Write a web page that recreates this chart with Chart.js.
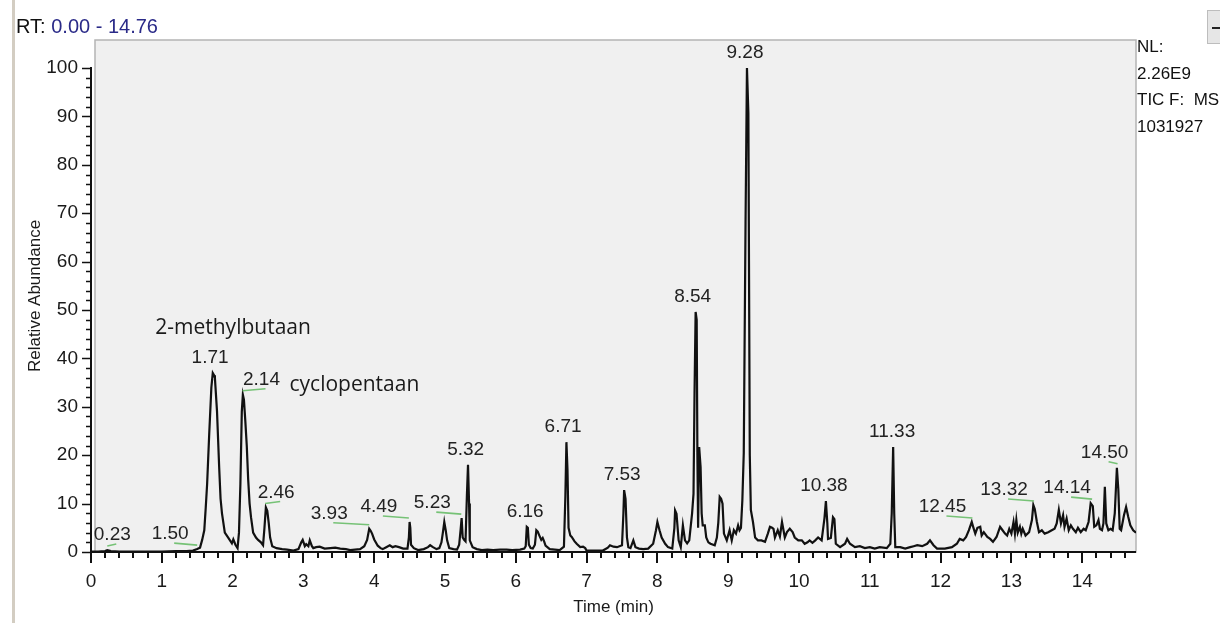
<!DOCTYPE html>
<html>
<head>
<meta charset="utf-8">
<title>TIC chromatogram</title>
<script src="https://cdn.jsdelivr.net/npm/chart.js@4.4.1/dist/chart.umd.min.js"></script>
<style>
  html, body { margin: 0; padding: 0; background: #fff; }
  canvas { display: block; }
</style>
</head>
<body>
<canvas id="tic" width="1220" height="623"></canvas>
<script>
// retention time (min) and relative abundance (%)
const retentionTimes = [
  0.00, 0.10, 0.20, 0.23, 0.28, 0.40, 0.60, 0.80, 1.00, 1.20, 1.35, 1.44, 1.50, 1.54, 1.57, 1.60,
  1.62, 1.64, 1.67, 1.70, 1.72, 1.74, 1.75, 1.78, 1.81, 1.83, 1.85, 1.89, 1.94, 1.99, 2.01, 2.04,
  2.07, 2.09, 2.11, 2.13, 2.145, 2.16, 2.18, 2.20, 2.22, 2.24, 2.26, 2.29, 2.33, 2.36, 2.40, 2.43,
  2.45, 2.47, 2.49, 2.51, 2.53, 2.56, 2.62, 2.70, 2.77, 2.86, 2.93, 2.97, 2.99, 3.02, 3.04, 3.07,
  3.09, 3.12, 3.14, 3.18, 3.23, 3.30, 3.38, 3.45, 3.52, 3.60, 3.66, 3.73, 3.80, 3.86, 3.90, 3.93,
  3.95, 3.97, 4.00, 4.05, 4.09, 4.12, 4.17, 4.22, 4.26, 4.30, 4.35, 4.41, 4.47, 4.49, 4.50, 4.51,
  4.52, 4.56, 4.62, 4.70, 4.76, 4.79, 4.83, 4.88, 4.92, 4.95, 4.97, 4.99, 5.01, 5.03, 5.06, 5.12,
  5.17, 5.20, 5.22, 5.235, 5.25, 5.27, 5.29, 5.31, 5.325, 5.34, 5.35, 5.39, 5.45, 5.52, 5.60, 5.68,
  5.78, 5.87, 5.95, 6.06, 6.12, 6.14, 6.155, 6.17, 6.185, 6.21, 6.24, 6.27, 6.29, 6.31, 6.33, 6.36,
  6.38, 6.40, 6.42, 6.48, 6.55, 6.62, 6.68, 6.70, 6.715, 6.73, 6.745, 6.77, 6.79, 6.83, 6.86, 6.91,
  6.95, 6.98, 7.00, 7.10, 7.23, 7.30, 7.33, 7.38, 7.43, 7.50, 7.52, 7.53, 7.55, 7.57, 7.59, 7.62,
  7.66, 7.69, 7.74, 7.80, 7.87, 7.94, 7.98, 8.00, 8.03, 8.06, 8.11, 8.15, 8.21, 8.24, 8.25, 8.27,
  8.30, 8.33, 8.36, 8.39, 8.42, 8.45, 8.49, 8.51, 8.525, 8.54, 8.555, 8.565, 8.575, 8.59, 8.61, 8.625,
  8.64, 8.67, 8.69, 8.72, 8.75, 8.81, 8.84, 8.86, 8.88, 8.90, 8.92, 8.94, 8.98, 9.02, 9.05, 9.08,
  9.11, 9.14, 9.16, 9.18, 9.20, 9.22, 9.245, 9.265, 9.285, 9.305, 9.32, 9.35, 9.38, 9.42, 9.47, 9.52,
  9.56, 9.59, 9.62, 9.64, 9.66, 9.70, 9.73, 9.76, 9.80, 9.83, 9.87, 9.91, 9.94, 9.99, 10.04, 10.08,
  10.12, 10.15, 10.19, 10.23, 10.27, 10.32, 10.36, 10.38, 10.40, 10.41, 10.45, 10.48, 10.50, 10.52, 10.58, 10.65,
  10.68, 10.72, 10.79, 10.86, 10.93, 11.00, 11.07, 11.14, 11.24, 11.29, 11.31, 11.33, 11.345, 11.36, 11.43, 11.50,
  11.57, 11.62, 11.67, 11.74, 11.81, 11.85, 11.90, 11.95, 12.06, 12.16, 12.23, 12.27, 12.32, 12.36, 12.40, 12.44,
  12.46, 12.49, 12.52, 12.56, 12.58, 12.61, 12.66, 12.70, 12.74, 12.79, 12.84, 12.87, 12.91, 12.94, 12.97, 13.00,
  13.03, 13.05, 13.07, 13.09, 13.12, 13.14, 13.16, 13.20, 13.25, 13.29, 13.31, 13.33, 13.36, 13.39, 13.43, 13.47,
  13.52, 13.57, 13.61, 13.64, 13.67, 13.70, 13.73, 13.75, 13.78, 13.81, 13.84, 13.87, 13.91, 13.94, 13.98, 14.02,
  14.05, 14.09, 14.12, 14.15, 14.17, 14.20, 14.23, 14.25, 14.28, 14.30, 14.32, 14.34, 14.37, 14.40, 14.43, 14.46,
  14.49, 14.51, 14.53, 14.55, 14.59, 14.62, 14.65, 14.68, 14.72, 14.76
];
const relAbundance = [
  0.1, 0.1, 0.2, 0.4, 0.2, 0.1, 0.1, 0.1, 0.1, 0.2, 0.2, 0.3, 0.6, 0.9, 2.5, 4.5,
  9, 14, 24.5, 34, 37, 36.5, 36, 29, 17.6, 11, 8, 4, 2.9, 1.8, 2.6, 1.5,
  0.8, 4, 14, 29, 32.5, 31.5, 27, 22, 15, 10, 7.2, 4, 3, 2.5, 2, 1.4,
  5, 9.2, 8.5, 6, 3, 1.2, 0.8, 0.6, 0.5, 0.3, 0.6, 2, 2.5, 1.2, 1.6, 1.2,
  2.4, 1.2, 0.8, 1, 1.1, 0.7, 0.8, 0.9, 0.7, 0.6, 0.4, 0.5, 0.6, 1.2, 2.5, 4.8,
  4.4, 3.8, 2.6, 1.3, 0.8, 0.6, 1.0, 1.4, 1.0, 1.2, 1.0, 0.7, 0.7, 3, 6.2, 5,
  1.5, 0.8, 0.4, 0.6, 1.0, 1.4, 1.0, 0.6, 0.8, 2, 4, 6.2, 4.5, 2.4, 0.8, 0.6,
  0.5, 1.5, 4.5, 7, 3, 2.5, 2.2, 12, 18, 10, 2.4, 1, 0.6, 0.4, 0.5, 0.4,
  0.5, 0.5, 0.4, 0.5, 0.7, 1.2, 5.2, 5, 1.5, 0.8, 0.7, 1.5, 4.5, 4.2, 3.5, 2.5,
  2.9, 2.2, 1.3, 0.6, 0.5, 0.4, 1.1, 11.4, 22.7, 17, 5, 3.4, 3.1, 2.2, 1.7, 1,
  1.1, 0.8, 0.3, 0.3, 0.3, 0.9, 1.4, 1.1, 1.0, 1.4, 8, 12.8, 11, 3, 1.0, 0.8,
  2.4, 1.0, 0.7, 0.6, 0.7, 1.7, 4.5, 6.2, 4.5, 3, 1.7, 1, 0.7, 5, 8.6, 7.9,
  2.4, 1, 5.5, 2.4, 1.8, 2.4, 8, 12, 33.5, 49.6, 48, 20, 5, 21.7, 17.6, 8,
  5.5, 5.5, 3, 2, 1.7, 1.4, 3, 6, 11.4, 11, 10, 3.8, 2.4, 4.5, 2.4, 4.5,
  3.8, 5.5, 4.5, 5, 10.7, 20.5, 68, 100, 90.7, 20, 8.7, 6.2, 3, 2.4, 2.4, 2.1,
  3.8, 5.2, 5, 4.8, 3, 4.5, 3.2, 6.2, 3, 4.1, 4.8, 4.1, 3, 2.4, 2.4, 1.7,
  2.0, 2.4, 1.9, 2.4, 3, 2.4, 7, 10.5, 6, 2.7, 2.9, 7.2, 6.8, 1.7, 1, 1.7,
  2.7, 1.7, 1, 1.2, 0.8, 1, 0.7, 1, 0.8, 1.7, 8, 21.7, 8, 1, 1, 0.7,
  1, 1.2, 1.4, 1.2, 1.7, 2.4, 1.4, 0.7, 0.7, 1, 1.7, 2.7, 2.4, 3.1, 4.5, 6.2,
  5.2, 3.8, 5, 5.2, 3.4, 4.1, 3.1, 2.7, 2.1, 3.1, 5.2, 4.6, 3.8, 3.4, 4.8, 3.8,
  6.2, 3.8, 6.6, 4, 5.2, 3.8, 4.8, 3.4, 4.1, 6.6, 9.7, 8.9, 6.2, 4.1, 4.5, 3.8,
  4.1, 4.5, 4.8, 5.9, 8.7, 5.9, 7.6, 5.2, 6.9, 4.5, 5.5, 4.8, 4.1, 5, 4.1, 4.8,
  4.5, 6.2, 10.1, 9.5, 5.2, 5.5, 6.6, 4.8, 4.5, 5.9, 13.5, 5.9, 4.5, 4.8, 4.5, 8,
  17.4, 13, 4.8, 4.5, 7.6, 9.3, 7.3, 5.5, 4.5, 4
];

// labelled peaks (retention time shown above each apex)
const peakLabels = ['0.23', '1.50', '1.71', '2.14', '2.46', '3.93', '4.49', '5.23', '5.32', '6.16',
  '6.71', '7.53', '8.54', '9.28', '10.38', '11.33', '12.45', '13.32', '14.14', '14.50'];

// compound names written next to two peaks
const compoundNames = ['2-methylbutaan', 'cyclopentaan'];
const compoundPeaks = ['1.71', '2.14'];

const timeTicks = [0, 1, 2, 3, 4, 5, 6, 7, 8, 9, 10, 11, 12, 13, 14];
const abundanceTicks = [0, 10, 20, 30, 40, 50, 60, 70, 80, 90, 100];
const rtRange = ['RT:', '0.00 - 14.76'];
const headerRight = ['NL:', '2.26E9', 'TIC F:  MS + c EI Full ms', '1031927'];

// where each label sits relative to its apex (px), and whether it has the green marker
const labelLayout = {
  '0.23': { dx: 5, green: true },
  '1.50': { dx: -27, green: true },
  '1.71': { dx: -2 },
  '2.14': { dx: 19, green: true },
  '2.46': { dx: 11, green: true },
  '3.93': { dx: -40, green: true },
  '4.49': { dx: -30, green: true },
  '5.23': { dx: -29, green: true },
  '5.32': { dx: -2 },
  '6.16': { dx: -2 },
  '6.71': { dx: -3 },
  '7.53': { dx: -2 },
  '8.54': { dx: -3 },
  '9.28': { dx: -3 },
  '10.38': { dx: -2 },
  '11.33': { dx: -1 },
  '12.45': { dx: -30, green: true },
  '13.32': { dx: -30, green: true },
  '14.14': { dx: -25, green: true },
  '14.50': { dx: -13, green: true }
};
const compoundLayout = {
  '2-methylbutaan': { dx: 21, dy: -45, align: 'center' },
  'cyclopentaan': { dx: 47, dy: -10, align: 'left' }
};

const FONT = '"Liberation Sans", Arial, sans-serif';

const points = retentionTimes.map((t, i) => ({ x: t, y: relAbundance[i] }));

// highest point of the trace near a labelled retention time
function apexNear(t) {
  let best = 0;
  retentionTimes.forEach((rt, i) => {
    if (Math.abs(rt - t) <= 0.03 && relAbundance[i] > best) best = relAbundance[i];
  });
  return best;
}

const xcaliburPlugin = {
  id: 'xcalibur',
  beforeDraw(chart) {
    const ctx = chart.ctx;
    const area = chart.chartArea;
    ctx.save();
    ctx.fillStyle = '#ffffff';
    ctx.fillRect(0, 0, chart.width, chart.height);
    // window edge on the left
    ctx.fillStyle = '#d3cdc2';
    ctx.fillRect(12, 0, 3, chart.height);
    // plot panel
    ctx.fillStyle = '#f0f0f0';
    ctx.fillRect(area.left + 4, area.top, area.right - area.left - 4, area.bottom - area.top);
    ctx.strokeStyle = '#b4b4b4';
    ctx.lineWidth = 1.5;
    ctx.strokeRect(area.left + 4, area.top, area.right - area.left - 4, area.bottom - area.top);
    ctx.restore();
  },
  afterDraw(chart) {
    const ctx = chart.ctx;
    const area = chart.chartArea;
    const xs = chart.scales.x;
    const ys = chart.scales.y;
    ctx.save();

    // axes
    ctx.strokeStyle = '#111';
    ctx.lineWidth = 2;
    ctx.beginPath();
    ctx.moveTo(area.left, ys.getPixelForValue(100) - 1);
    ctx.lineTo(area.left, area.bottom);
    ctx.lineTo(area.right, area.bottom);
    ctx.stroke();

    // y ticks every 2 %, long ones every 10 %
    ctx.lineWidth = 1.5;
    ctx.beginPath();
    for (let v = 0; v <= 100; v += 2) {
      const y = Math.round(ys.getPixelForValue(v)) + 0.5;
      const len = v % 10 === 0 ? 9 : 5;
      ctx.moveTo(area.left - len, y);
      ctx.lineTo(area.left, y);
    }
    ctx.stroke();

    // x ticks every 0.2 min, long ones every minute
    ctx.lineWidth = 2;
    ctx.beginPath();
    for (let i = 0; i <= 73; i++) {
      const x = Math.round(xs.getPixelForValue(i * 0.2));
      const len = i % 5 === 0 ? 11 : 6;
      ctx.moveTo(x, area.bottom);
      ctx.lineTo(x, area.bottom + len);
    }
    ctx.stroke();

    // peak labels and green markers
    ctx.font = '19px ' + FONT;
    ctx.textAlign = 'center';
    ctx.textBaseline = 'middle';
    const apexPx = {};
    peakLabels.forEach(label => {
      const t = parseFloat(label);
      const v = apexNear(t);
      const px = xs.getPixelForValue(t);
      const py = ys.getPixelForValue(v);
      apexPx[label] = { x: px, y: py };
      const lay = labelLayout[label] || { dx: 0 };
      const cx = px + lay.dx;
      const cy = py - 15;
      if (lay.green) {
        ctx.strokeStyle = '#76c276';
        ctx.lineWidth = 1.6;
        ctx.beginPath();
        ctx.moveTo(cx + 4, cy + 9);
        ctx.lineTo(px, cy + 11);
        ctx.stroke();
      }
      ctx.fillStyle = '#222';
      ctx.fillText(label, cx, cy);
    });

    // compound names
    ctx.font = '21px "Open Sans", "Noto Sans", sans-serif';
    ctx.fillStyle = '#1a1a1a';
    compoundNames.forEach((name, i) => {
      const a = apexPx[compoundPeaks[i]];
      const lay = compoundLayout[name];
      ctx.textAlign = lay.align;
      ctx.fillText(name, a.x + lay.dx, a.y + lay.dy);
    });

    // header: retention time range
    ctx.font = '20px ' + FONT;
    ctx.textAlign = 'left';
    ctx.fillStyle = '#111';
    ctx.fillText(rtRange[0], 16, 27);
    const w = ctx.measureText(rtRange[0] + ' ').width;
    ctx.fillStyle = '#2a2a88';
    ctx.fillText(rtRange[1], 16 + w, 27);

    // header on the right
    ctx.font = '17px ' + FONT;
    ctx.fillStyle = '#111';
    [47, 74, 100, 127].forEach((y, i) => ctx.fillText(headerRight[i], area.right + 1, y));

    // small window button, top right
    ctx.fillStyle = '#e6e6e6';
    ctx.fillRect(1207, 10, 14, 33);
    ctx.strokeStyle = '#bdbdbd';
    ctx.lineWidth = 1;
    ctx.strokeRect(1207.5, 10.5, 14, 33);
    ctx.strokeStyle = '#222';
    ctx.lineWidth = 2;
    ctx.beginPath();
    ctx.moveTo(1212, 28);
    ctx.lineTo(1220, 28);
    ctx.stroke();

    ctx.restore();
  }
};

new Chart(document.getElementById('tic'), {
  type: 'line',
  data: {
    datasets: [{
      data: points,
      borderColor: '#111',
      borderWidth: 2.2,
      pointRadius: 0,
      tension: 0,
      fill: false
    }]
  },
  options: {
    responsive: false,
    animation: false,
    devicePixelRatio: 1,
    layout: { padding: { top: 40, right: 84, left: 0, bottom: 0 } },
    plugins: { legend: { display: false }, tooltip: { enabled: false } },
    scales: {
      x: {
        type: 'linear',
        min: 0,
        max: 14.76,
        grid: { display: false, drawTicks: false },
        border: { display: false },
        afterBuildTicks: s => { s.ticks = timeTicks.map(v => ({ value: v })); },
        afterFit: s => { s.height = 71; },
        ticks: { color: '#1a1a1a', padding: 18, maxRotation: 0, autoSkip: false, font: { family: FONT, size: 19 } },
        title: { display: true, text: 'Time (min)', color: '#1a1a1a', padding: { top: 0, bottom: 5 }, font: { family: FONT, size: 17 } }
      },
      y: {
        min: 0,
        max: 105.8,
        grid: { display: false, drawTicks: false },
        border: { display: false },
        afterBuildTicks: s => { s.ticks = abundanceTicks.map(v => ({ value: v })); },
        afterFit: s => { s.width = 91; },
        ticks: { color: '#1a1a1a', padding: 13, autoSkip: false, font: { family: FONT, size: 19 } },
        title: { display: true, text: 'Relative Abundance', color: '#1a1a1a', padding: { top: 25, bottom: 0 }, font: { family: FONT, size: 17 } }
      }
    }
  },
  plugins: [xcaliburPlugin]
});
</script>
</body>
</html>
